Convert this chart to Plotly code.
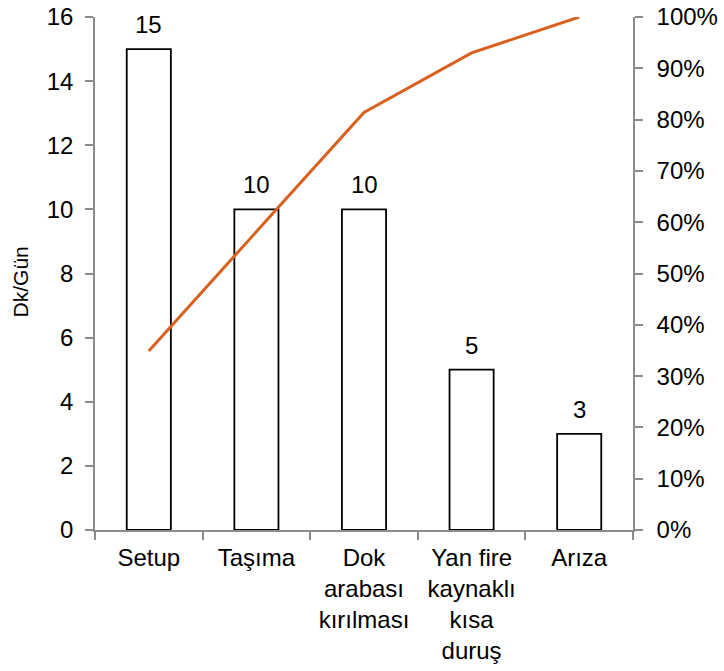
import plotly.graph_objects as go

categories = ["Setup", "Taşıma", "Dok<br>arabası<br>kırılması", "Yan fire<br>kaynaklı<br>kısa<br>duruş", "Arıza"]
values = [15, 10, 10, 5, 3]
cumulative_pct = [0.349, 0.581, 0.814, 0.930, 1.0]
y_title = "Dk/Gün"

font = dict(family="Liberation Sans, Arial, sans-serif", size=24, color="#000000")
axis_color = "#8c8c8c"

fig = go.Figure()
fig.add_trace(go.Bar(
    x=categories, y=values, width=0.41,
    marker=dict(color="white", line=dict(color="black", width=1.8)),
    showlegend=False,
))
fig.add_trace(go.Scatter(
    x=categories, y=cumulative_pct, yaxis="y2", mode="lines",
    line=dict(color="#D9601E", width=3), showlegend=False,
))

for c, v in zip(categories, values):
    fig.add_annotation(x=c, y=v, xref="x", yref="y", text=str(v), showarrow=False,
                       yanchor="bottom", yshift=9, font=font)

fig.add_annotation(x=-0.139, y=0.483, xref="paper", yref="paper", text=y_title,
                   textangle=-90, showarrow=False, xanchor="center", yanchor="middle",
                   font=dict(family=font["family"], size=21, color="#000"))

fig.update_layout(
    width=724, height=671,
    margin=dict(l=95, r=91, t=17, b=141),
    plot_bgcolor="white", paper_bgcolor="white",
    font=font,
    xaxis=dict(
        showline=True, linecolor=axis_color, linewidth=1.5,
        ticks="outside", tickson="boundaries", ticklen=8, tickcolor=axis_color, tickwidth=1.5,
        showgrid=False, tickfont=font, automargin=False, ticklabelstandoff=5,
    ),
    yaxis=dict(
        range=[0, 16], dtick=2, showline=True, linecolor=axis_color, linewidth=1.5,
        ticks="outside", ticklen=8, tickcolor=axis_color, tickwidth=1.5,
        showgrid=False, zeroline=False, tickfont=font, automargin=False, ticklabelstandoff=7,
    ),
    yaxis2=dict(
        range=[0, 1], dtick=0.1, tickformat=".0%", overlaying="y", side="right",
        showline=True, linecolor=axis_color, linewidth=1.5,
        ticks="outside", ticklen=8, tickcolor=axis_color, tickwidth=1.5,
        showgrid=False, zeroline=False, tickfont=font, automargin=False, ticklabelstandoff=9,
    ),
)

fig.write_html("out.html")
